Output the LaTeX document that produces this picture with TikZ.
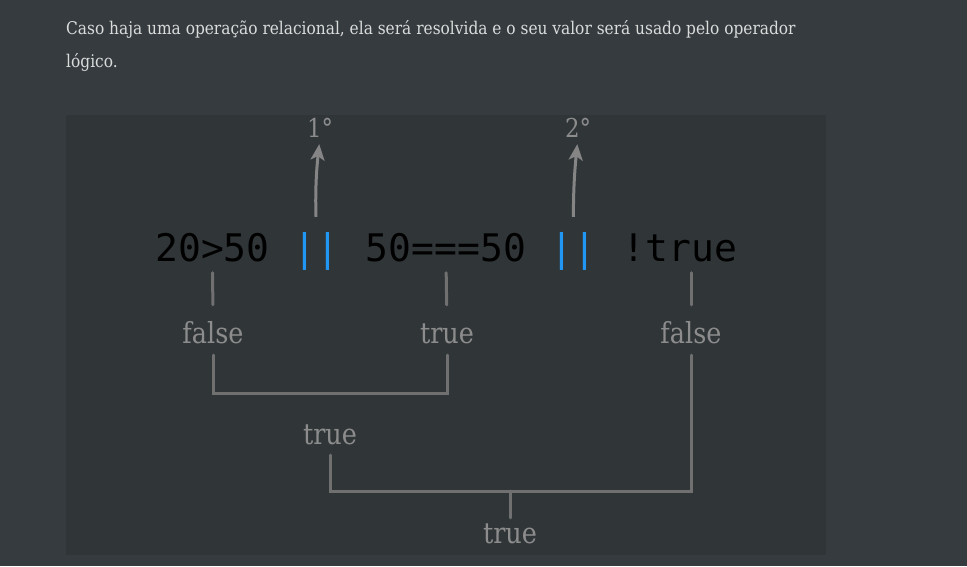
\documentclass[tikz,border=0pt]{standalone}
\usepackage{fontspec}
\usepackage{tikz}
\usepackage{xcolor}
\usetikzlibrary{arrows.meta}
\setmainfont{DejaVu Serif}
\newfontfamily\codefont{DejaVu Sans Mono}
\newfontfamily\slimfont[FakeStretch=0.88]{DejaVu Serif}

\definecolor{pagebg}{HTML}{363B3F}
\definecolor{panelbg}{HTML}{303538}
\definecolor{headtext}{HTML}{DADCDC}
\definecolor{resgray}{HTML}{8C8C8C}
\definecolor{linkgray}{HTML}{707070}
\definecolor{orblue}{HTML}{2196F3}

\tikzset{
	head/.style={font=\slimfont\fontsize{17.5}{20}\selectfont, text=headtext, anchor=base west, inner sep=0pt},
	code/.style={font=\codefont\fontsize{38}{40}\selectfont, text=black, anchor=base, inner sep=0pt},
	res/.style={font=\slimfont\fontsize{29}{31}\selectfont, text=resgray, anchor=base, inner sep=0pt, text height=20pt, text depth=0pt},
	ord/.style={font=\slimfont\fontsize{26}{28}\selectfont, text=resgray, anchor=base, inner sep=0pt, text height=20pt, text depth=0pt},
	link/.style={draw=linkgray, line width=3pt, line cap=round},
	orderarrow/.style={draw=linkgray!85!white, line width=3pt, -{Stealth[length=16pt, width=14pt, inset=4pt]}}
}

\begin{document}
\begin{tikzpicture}[x=1pt, y=-1pt]
	% page and panel
	\fill[pagebg] (0,0) rectangle (967,566);
	\fill[panelbg] (66,115) rectangle (826,555);
	\useasboundingbox (0,0) rectangle (967,566);

	% text above
	\node[head] (line1) at (66,34) {Caso haja uma operação relacional, ela será resolvida e o seu valor será usado pelo operador};
	\node[head] (line2) at (66,67) {lógico.};

	% expression
	\node[code] (expr1) at (212.5,261) {20>50};
	\node[code, text=orblue] (or1) at (316.5,261) {||};
	\node[code] (expr2) at (446,261) {50===50};
	\node[code, text=orblue] (or2) at (573.5,261) {||};
	\node[code] (expr3) at (680,261) {!true};

	% order of evaluation
	\node[ord] (ord1) at (320,137) {1°};
	\node[ord] (ord2) at (578,137) {2°};
	\draw[orderarrow, shorten <=15pt, shorten >=7pt] (or1.north) to[bend left=4] (ord1.south);
	\draw[orderarrow, shorten <=15pt, shorten >=7pt] (or2.north) to[bend left=3] (ord2.south);

	% partial results
	\node[res] (false1) at (213,343) {false};
	\node[res] (true1) at (447,343) {true};
	\node[res] (false2) at (691,343) {false};
	\draw[link, shorten <=11pt, shorten >=18pt] (expr1.south) -- (false1.north);
	\draw[link, shorten <=11pt, shorten >=18pt] (expr2.south) -- (true1.north);
	\draw[link, shorten <=11pt, shorten >=18pt] (false2.north |- expr3.south) -- (false2.north);

	% first ||
	\coordinate (join1) at (330,393);
	\node[res] (trueA) at (330,444) {true};
	\draw[link, shorten <=12pt, shorten >=12pt] (false1.south) |- (join1) -| (true1.south);

	% second ||
	\coordinate (join2) at (510,491);
	\node[res] (trueB) at (510,543) {true};
	\draw[link, shorten <=11pt, shorten >=12pt] (trueA.south) |- (join2) -| (false2.south);
	\draw[link, shorten >=5pt] (join2) -- (trueB.north);
\end{tikzpicture}
\end{document}
